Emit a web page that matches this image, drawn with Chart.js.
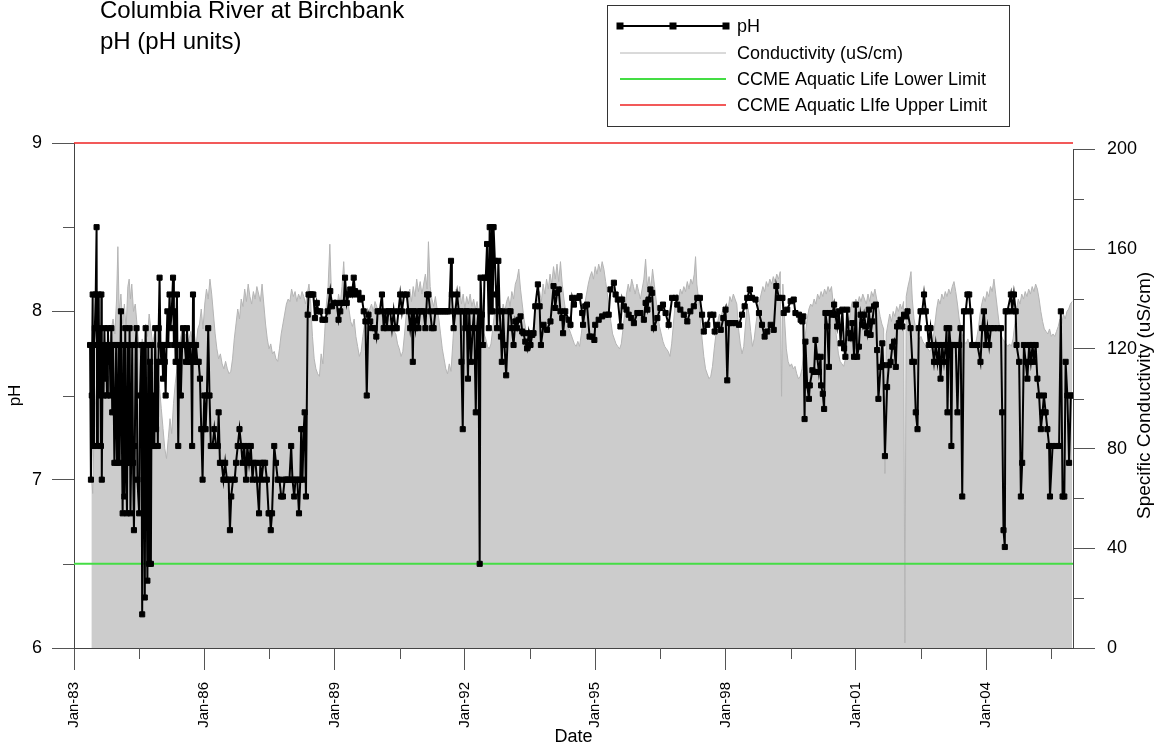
<!DOCTYPE html>
<html>
<head>
<meta charset="utf-8">
<title>Columbia River at Birchbank - pH</title>
<script src="https://cdn.jsdelivr.net/npm/chart.js@4.4.1/dist/chart.umd.min.js"></script>
<style>
  html, body { margin: 0; padding: 0; background: #ffffff; }
  #wrap { position: relative; width: 1157px; height: 748px; }
</style>
</head>
<body>
<div id="wrap"><canvas id="phChart" width="1157" height="748"></canvas></div>
<script>
var FONT = "'Liberation Sans', Arial, Helvetica, sans-serif";

var titleLines = ['Columbia River at Birchbank', 'pH (pH units)'];

// pH samples: decimal year and pH units
var phDates = [
  1983.37,1983.39,1983.41,1983.43,1983.44,1983.46,1983.48,1983.50,1983.52,1983.53,
  1983.55,1983.57,1983.58,1983.60,1983.62,1983.63,1983.64,1983.66,1983.68,1983.70,
  1983.72,1983.74,1983.76,1983.78,1983.80,1983.82,1983.84,1983.86,1983.88,1983.90,
  1983.93,1983.95,1983.97,1983.99,1984.01,1984.03,1984.05,1984.08,1984.10,1984.12,
  1984.14,1984.16,1984.18,1984.20,1984.22,1984.24,1984.26,1984.28,1984.30,1984.32,
  1984.34,1984.36,1984.38,1984.40,1984.42,1984.44,1984.46,1984.50,1984.52,1984.55,
  1984.57,1984.59,1984.61,1984.63,1984.65,1984.67,1984.69,1984.71,1984.73,1984.75,
  1984.77,1984.79,1984.81,1984.83,1984.85,1984.87,1984.89,1984.91,1984.93,1984.95,
  1984.97,1984.99,1985.01,1985.03,1985.05,1985.07,1985.09,1985.11,1985.13,1985.15,
  1985.17,1985.20,1985.22,1985.25,1985.28,1985.30,1985.32,1985.34,1985.37,1985.40,
  1985.42,1985.44,1985.46,1985.49,1985.51,1985.53,1985.55,1985.58,1985.60,1985.62,
  1985.64,1985.67,1985.70,1985.72,1985.74,1985.76,1985.78,1985.81,1985.84,1985.87,
  1985.90,1985.93,1985.96,1985.98,1986.00,1986.03,1986.06,1986.09,1986.12,1986.15,
  1986.19,1986.23,1986.27,1986.31,1986.33,1986.36,1986.40,1986.44,1986.48,1986.52,
  1986.56,1986.59,1986.62,1986.66,1986.70,1986.73,1986.77,1986.81,1986.85,1986.88,
  1986.92,1986.96,1986.99,1987.03,1987.07,1987.11,1987.14,1987.18,1987.21,1987.26,
  1987.29,1987.32,1987.36,1987.40,1987.44,1987.48,1987.51,1987.53,1987.56,1987.61,
  1987.65,1987.69,1987.73,1987.77,1987.81,1987.85,1987.88,1987.92,1987.96,1988.00,
  1988.03,1988.07,1988.10,1988.14,1988.18,1988.21,1988.23,1988.26,1988.29,1988.31,
  1988.34,1988.38,1988.40,1988.45,1988.48,1988.51,1988.55,1988.59,1988.63,1988.67,
  1988.72,1988.78,1988.84,1988.90,1988.94,1988.98,1989.05,1989.09,1989.13,1989.17,
  1989.21,1989.24,1989.28,1989.32,1989.36,1989.40,1989.44,1989.47,1989.51,1989.55,
  1989.59,1989.63,1989.67,1989.71,1989.74,1989.78,1989.82,1989.86,1989.92,1989.96,
  1989.99,1990.04,1990.09,1990.13,1990.17,1990.20,1990.24,1990.28,1990.32,1990.36,
  1990.40,1990.43,1990.47,1990.51,1990.55,1990.60,1990.66,1990.70,1990.74,1990.78,
  1990.80,1990.82,1990.86,1990.90,1990.93,1990.97,1991.01,1991.05,1991.09,1991.13,
  1991.16,1991.20,1991.24,1991.28,1991.32,1991.36,1991.40,1991.44,1991.48,1991.52,
  1991.56,1991.60,1991.64,1991.68,1991.70,1991.74,1991.78,1991.82,1991.86,1991.90,
  1991.92,1991.95,1991.98,1992.01,1992.04,1992.07,1992.10,1992.14,1992.18,1992.21,
  1992.25,1992.28,1992.31,1992.34,1992.36,1992.39,1992.42,1992.45,1992.48,1992.51,
  1992.55,1992.57,1992.60,1992.62,1992.64,1992.66,1992.69,1992.72,1992.74,1992.77,
  1992.80,1992.83,1992.85,1992.88,1992.91,1992.95,1993.01,1993.05,1993.08,1993.12,
  1993.16,1993.20,1993.24,1993.28,1993.32,1993.35,1993.39,1993.43,1993.47,1993.51,
  1993.55,1993.58,1993.62,1993.68,1993.72,1993.75,1993.81,1993.89,1993.97,1994.04,
  1994.08,1994.12,1994.16,1994.20,1994.24,1994.26,1994.31,1994.39,1994.43,1994.47,
  1994.51,1994.58,1994.64,1994.70,1994.72,1994.77,1994.81,1994.87,1994.93,1994.98,
  1995.00,1995.08,1995.16,1995.24,1995.31,1995.35,1995.43,1995.47,1995.52,1995.58,
  1995.62,1995.66,1995.72,1995.77,1995.83,1995.89,1995.97,1996.04,1996.12,1996.16,
  1996.20,1996.23,1996.27,1996.31,1996.35,1996.43,1996.50,1996.56,1996.62,1996.69,
  1996.77,1996.85,1996.89,1996.96,1997.04,1997.12,1997.19,1997.27,1997.35,1997.41,
  1997.46,1997.50,1997.58,1997.65,1997.72,1997.75,1997.81,1997.89,1997.95,1998.00,
  1998.04,1998.08,1998.15,1998.23,1998.31,1998.38,1998.44,1998.50,1998.56,1998.61,
  1998.69,1998.77,1998.84,1998.90,1998.96,1999.04,1999.11,1999.17,1999.23,1999.31,
  1999.34,1999.42,1999.50,1999.57,1999.61,1999.69,1999.73,1999.77,1999.79,1999.82,
  1999.84,1999.88,1999.92,1999.94,2000.00,2000.04,2000.07,2000.11,2000.15,2000.19,
  2000.20,2000.24,2000.27,2000.30,2000.34,2000.38,2000.40,2000.46,2000.50,2000.53,
  2000.57,2000.61,2000.65,2000.69,2000.73,2000.76,2000.80,2000.84,2000.88,2000.92,
  2000.96,2001.00,2001.03,2001.07,2001.11,2001.15,2001.19,2001.23,2001.26,2001.30,
  2001.34,2001.38,2001.42,2001.46,2001.49,2001.52,2001.57,2001.61,2001.63,2001.67,
  2001.72,2001.76,2001.80,2001.84,2001.88,2001.92,2001.95,2001.99,2002.03,2002.07,
  2002.11,2002.15,2002.19,2002.26,2002.30,2002.34,2002.38,2002.42,2002.45,2002.49,
  2002.53,2002.57,2002.61,2002.65,2002.68,2002.72,2002.76,2002.80,2002.84,2002.88,
  2002.92,2002.95,2002.99,2003.03,2003.07,2003.09,2003.11,2003.15,2003.18,2003.20,
  2003.22,2003.26,2003.30,2003.34,2003.38,2003.41,2003.45,2003.49,2003.53,2003.57,
  2003.61,2003.64,2003.68,2003.72,2003.80,2003.87,2003.91,2003.95,2003.99,2004.03,
  2004.07,2004.11,2004.18,2004.26,2004.34,2004.37,2004.40,2004.43,2004.45,2004.49,
  2004.57,2004.60,2004.64,2004.68,2004.70,2004.76,2004.80,2004.83,2004.87,2004.91,
  2004.95,2004.99,2005.03,2005.07,2005.10,2005.14,2005.18,2005.22,2005.26,2005.30,
  2005.33,2005.37,2005.41,2005.45,2005.47,2005.53,2005.60,2005.68,2005.72,2005.76,
  2005.80,2005.83,2005.87,2005.91,2005.95,2005.99
];
var phValues = [
  7.8,7.0,7.5,8.1,7.2,7.8,7.9,8.1,8.5,7.2,
  7.8,8.1,7.5,7.9,7.2,8.1,7.0,7.8,7.5,7.9,
  7.6,7.8,7.5,7.9,7.7,7.8,7.5,7.9,7.4,7.8,
  7.1,7.4,7.8,7.1,7.4,7.8,7.1,8.0,7.3,6.8,
  7.8,6.9,7.9,7.1,6.8,7.8,7.1,7.9,6.8,7.2,
  7.8,7.1,6.7,7.2,7.8,7.9,7.0,6.8,7.5,7.8,
  6.2,7.8,7.2,6.3,7.9,7.1,6.4,7.8,6.5,7.7,
  6.5,7.8,7.2,7.5,7.2,7.9,7.3,7.7,7.2,7.9,
  8.2,7.8,7.7,7.8,7.6,7.8,7.7,7.5,7.8,8.0,
  7.8,8.1,7.9,8.0,8.2,7.8,8.0,7.7,8.1,7.2,
  7.7,7.8,7.5,7.8,7.9,7.8,7.8,7.7,7.9,7.8,
  7.7,7.8,7.7,7.2,8.1,7.8,7.7,7.8,7.7,7.7,
  7.6,7.3,7.0,7.3,7.5,7.3,7.5,7.9,7.5,7.2,
  7.2,7.3,7.2,7.2,7.4,7.1,7.1,7.0,7.1,7.0,
  7.0,6.7,6.9,7.0,7.0,7.1,7.2,7.3,7.2,7.1,
  7.2,7.0,7.2,7.1,7.2,7.0,7.1,7.1,7.0,6.8,
  7.1,7.0,7.1,7.1,7.0,6.8,6.8,6.7,6.8,7.2,
  7.1,7.0,7.0,6.9,6.9,7.0,7.0,7.0,7.0,7.2,
  7.0,6.9,7.0,7.0,6.8,7.0,7.3,7.0,7.3,7.4,
  6.9,7.98,8.1,8.1,8.1,8.1,7.96,8.05,8.0,8.0,
  7.95,7.95,8.0,8.12,8.03,8.05,8.05,7.95,8.0,8.05,
  8.05,8.2,8.05,8.1,8.13,8.1,8.2,8.12,8.1,8.11,
  8.07,8.08,8.0,7.94,7.5,7.98,7.94,7.9,7.9,7.85,
  8.0,8.0,8.1,7.9,8.0,7.9,8.0,8.0,7.9,8.0,
  7.9,7.9,8.0,8.1,8.0,8.1,8.1,8.0,7.9,8.0,
  7.7,8.0,7.9,8.0,7.9,8.0,8.0,8.0,7.9,8.1,
  8.1,8.0,7.9,7.9,8.0,8.0,8.0,8.0,8.0,8.0,
  8.0,8.0,8.0,8.3,8.1,7.9,8.0,8.1,8.0,8.0,
  7.7,7.3,8.0,7.9,8.0,7.6,8.0,7.7,7.9,8.0,
  7.4,7.9,8.0,6.5,8.2,7.98,7.8,8.2,8.2,8.4,
  7.9,8.5,8.0,8.5,8.0,8.5,8.3,8.1,7.9,8.3,
  8.0,7.85,7.7,8.0,7.8,7.62,8.0,8.0,7.9,7.8,
  7.94,7.9,7.95,7.97,7.88,7.87,7.82,7.78,7.87,7.8,
  7.86,7.87,8.03,8.16,8.03,7.8,7.92,7.89,7.94,8.15,
  8.02,8.11,8.13,8.0,7.96,7.87,8.0,7.95,7.92,8.08,
  8.04,8.08,8.09,7.99,7.92,8.03,8.04,7.85,7.85,7.83,
  7.92,7.95,7.97,7.98,7.98,8.13,8.17,8.1,8.07,7.91,
  8.07,8.03,8.01,7.98,7.96,7.93,7.99,7.99,7.95,8.05,
  8.01,8.07,8.13,8.11,7.9,7.96,8.02,8.04,7.99,7.92,
  8.08,8.08,8.04,8.01,7.98,7.94,8.0,8.03,8.08,8.08,
  7.98,7.88,7.92,7.98,7.98,7.88,7.92,7.89,7.96,8.01,
  7.59,7.93,7.93,7.93,7.92,7.98,8.03,8.08,8.13,8.08,
  8.07,7.99,7.92,7.85,7.88,7.92,7.89,8.15,8.08,8.08,
  7.99,8.01,8.06,8.07,7.99,7.98,7.95,7.94,7.97,7.36,
  7.82,7.56,7.48,7.56,7.65,7.64,7.83,7.73,7.64,7.73,
  7.56,7.51,7.42,7.99,7.91,7.67,7.99,7.98,8.04,7.98,
  7.91,8.0,7.81,8.01,7.78,7.73,8.01,7.87,7.84,7.93,
  7.73,8.04,7.73,7.79,7.98,7.92,7.98,7.91,7.87,8.01,
  7.86,7.94,8.03,8.04,7.77,7.48,7.67,7.81,7.68,7.14,
  7.55,7.68,7.7,7.79,7.82,7.67,7.91,7.93,7.95,7.91,
  7.98,7.97,8.0,7.9,7.7,7.7,7.4,7.3,7.9,8.0,
  8.0,8.1,8.0,7.9,7.8,7.9,7.8,7.7,7.8,7.7,
  7.8,7.6,7.8,7.7,7.8,7.9,7.4,7.9,7.8,7.2,
  7.8,7.8,7.8,7.4,7.8,7.9,6.9,8.0,8.0,8.1,
  8.1,8.0,7.8,7.8,7.8,7.7,7.9,8.0,7.8,7.9,
  7.8,7.9,7.9,7.9,7.9,7.4,6.7,6.6,8.0,8.0,
  8.1,8.0,8.1,8.0,7.8,7.7,6.9,7.1,7.8,7.7,
  7.6,7.8,7.7,7.8,7.7,7.8,7.6,7.5,7.3,7.4,
  7.5,7.4,7.3,7.2,6.9,7.2,7.2,7.2,8.0,6.9,
  6.9,7.7,7.5,7.1,7.5,7.5
];

// specific conductivity: decimal year and uS/cm
var condDates = [
  1983.40,1983.43,1983.46,1983.50,1983.54,1983.58,1983.62,1983.66,1983.70,1983.74,
  1983.78,1983.82,1983.86,1983.90,1983.94,1983.98,1984.01,1984.04,1984.08,1984.12,
  1984.16,1984.20,1984.24,1984.27,1984.30,1984.33,1984.37,1984.41,1984.45,1984.49,
  1984.53,1984.57,1984.61,1984.65,1984.69,1984.73,1984.77,1984.81,1984.85,1984.89,
  1984.93,1984.97,1985.01,1985.05,1985.09,1985.13,1985.17,1985.21,1985.25,1985.29,
  1985.33,1985.37,1985.41,1985.45,1985.49,1985.53,1985.57,1985.61,1985.65,1985.69,
  1985.73,1985.77,1985.81,1985.85,1985.89,1985.93,1985.97,1986.01,1986.05,1986.09,
  1986.13,1986.17,1986.21,1986.25,1986.29,1986.33,1986.37,1986.41,1986.45,1986.49,
  1986.53,1986.57,1986.61,1986.65,1986.69,1986.73,1986.77,1986.81,1986.85,1986.89,
  1986.93,1986.97,1987.01,1987.05,1987.09,1987.13,1987.17,1987.21,1987.25,1987.29,
  1987.33,1987.37,1987.41,1987.45,1987.49,1987.53,1987.57,1987.61,1987.65,1987.69,
  1987.73,1987.77,1987.81,1987.85,1987.89,1987.93,1987.97,1988.01,1988.05,1988.09,
  1988.13,1988.17,1988.21,1988.25,1988.29,1988.33,1988.37,1988.41,1988.45,1988.49,
  1988.53,1988.57,1988.61,1988.65,1988.69,1988.73,1988.77,1988.81,1988.85,1988.89,
  1988.93,1988.97,1989.01,1989.05,1989.09,1989.13,1989.17,1989.21,1989.25,1989.29,
  1989.33,1989.37,1989.41,1989.45,1989.49,1989.53,1989.57,1989.61,1989.65,1989.69,
  1989.73,1989.77,1989.81,1989.85,1989.89,1989.93,1989.97,1990.01,1990.05,1990.09,
  1990.13,1990.17,1990.21,1990.25,1990.29,1990.33,1990.37,1990.41,1990.45,1990.49,
  1990.53,1990.57,1990.61,1990.65,1990.69,1990.73,1990.77,1990.81,1990.85,1990.89,
  1990.93,1990.97,1991.01,1991.05,1991.09,1991.13,1991.16,1991.20,1991.24,1991.28,
  1991.32,1991.36,1991.40,1991.44,1991.48,1991.52,1991.56,1991.60,1991.64,1991.68,
  1991.72,1991.76,1991.80,1991.84,1991.88,1991.92,1991.96,1992.00,1992.04,1992.08,
  1992.12,1992.16,1992.20,1992.24,1992.28,1992.32,1992.36,1992.40,1992.44,1992.48,
  1992.52,1992.56,1992.60,1992.64,1992.68,1992.72,1992.76,1992.80,1992.84,1992.88,
  1992.92,1992.96,1993.00,1993.04,1993.08,1993.12,1993.16,1993.20,1993.24,1993.28,
  1993.32,1993.36,1993.40,1993.44,1993.48,1993.52,1993.56,1993.60,1993.64,1993.68,
  1993.72,1993.76,1993.80,1993.84,1993.88,1993.92,1993.96,1994.00,1994.04,1994.08,
  1994.12,1994.16,1994.20,1994.24,1994.28,1994.32,1994.36,1994.40,1994.44,1994.48,
  1994.52,1994.56,1994.60,1994.64,1994.68,1994.72,1994.76,1994.80,1994.84,1994.88,
  1994.92,1994.96,1995.00,1995.04,1995.08,1995.12,1995.16,1995.20,1995.24,1995.28,
  1995.32,1995.36,1995.40,1995.44,1995.48,1995.52,1995.56,1995.60,1995.64,1995.68,
  1995.72,1995.76,1995.80,1995.84,1995.88,1995.92,1995.96,1996.00,1996.04,1996.08,
  1996.12,1996.16,1996.20,1996.24,1996.28,1996.32,1996.36,1996.40,1996.44,1996.48,
  1996.52,1996.56,1996.60,1996.64,1996.68,1996.72,1996.76,1996.80,1996.84,1996.88,
  1996.92,1996.96,1997.00,1997.04,1997.08,1997.12,1997.16,1997.20,1997.24,1997.28,
  1997.31,1997.34,1997.38,1997.42,1997.46,1997.50,1997.54,1997.58,1997.62,1997.66,
  1997.70,1997.74,1997.78,1997.82,1997.86,1997.90,1997.94,1997.98,1998.02,1998.06,
  1998.10,1998.14,1998.18,1998.22,1998.26,1998.30,1998.34,1998.38,1998.42,1998.46,
  1998.50,1998.54,1998.58,1998.62,1998.66,1998.70,1998.74,1998.78,1998.82,1998.86,
  1998.90,1998.94,1998.98,1999.02,1999.06,1999.10,1999.14,1999.18,1999.22,1999.26,
  1999.29,1999.32,1999.36,1999.40,1999.44,1999.48,1999.52,1999.56,1999.60,1999.64,
  1999.68,1999.72,1999.76,1999.80,1999.84,1999.88,1999.92,1999.96,2000.00,2000.04,
  2000.08,2000.12,2000.16,2000.20,2000.24,2000.28,2000.32,2000.36,2000.40,2000.44,
  2000.48,2000.52,2000.56,2000.60,2000.64,2000.68,2000.72,2000.76,2000.80,2000.84,
  2000.88,2000.92,2000.96,2001.00,2001.04,2001.08,2001.12,2001.16,2001.20,2001.24,
  2001.28,2001.32,2001.36,2001.40,2001.44,2001.48,2001.52,2001.56,2001.60,2001.64,
  2001.67,2001.70,2001.74,2001.78,2001.82,2001.86,2001.90,2001.94,2001.98,2002.02,
  2002.06,2002.10,2002.13,2002.16,2002.20,2002.24,2002.27,2002.30,2002.34,2002.38,
  2002.42,2002.46,2002.50,2002.54,2002.58,2002.62,2002.66,2002.70,2002.74,2002.78,
  2002.82,2002.86,2002.90,2002.94,2002.98,2003.02,2003.06,2003.10,2003.14,2003.18,
  2003.22,2003.26,2003.30,2003.34,2003.38,2003.42,2003.46,2003.50,2003.54,2003.58,
  2003.62,2003.66,2003.70,2003.74,2003.78,2003.82,2003.86,2003.90,2003.94,2003.98,
  2004.02,2004.06,2004.10,2004.14,2004.18,2004.22,2004.26,2004.30,2004.34,2004.38,
  2004.42,2004.46,2004.50,2004.54,2004.58,2004.62,2004.66,2004.70,2004.74,2004.78,
  2004.82,2004.86,2004.90,2004.94,2004.98,2005.02,2005.06,2005.10,2005.14,2005.18,
  2005.22,2005.26,2005.30,2005.34,2005.38,2005.42,2005.46,2005.50,2005.54,2005.58,
  2005.62,2005.66,2005.70,2005.74,2005.78,2005.82,2005.86,2005.90,2005.94,2005.98
];
var condValues = [
  70,62,85,100,112,105,118,110,122,115,
  125,120,128,132,126,140,161,135,142,130,
  138,128,145,148,140,146,135,138,130,122,
  118,124,120,130,125,134,128,122,126,120,
  112,104,96,88,80,76,84,92,86,98,
  106,112,120,124,128,122,126,119,124,127,
  122,126,121,128,130,136,128,138,144,140,
  148,142,134,126,120,116,118,114,112,115,
  112,110,111,116,124,130,136,132,140,137,
  144,139,146,141,138,143,140,145,142,139,
  146,138,130,124,120,122,118,119,116,115,
  120,126,130,134,138,140,139,144,141,143,
  139,142,140,143,141,138,142,146,138,125,
  116,112,110,109,118,114,126,138,145,162,
  141,137,140,135,142,138,145,155,140,143,
  136,131,129,132,125,121,117,119,125,130,
  128,133,136,138,135,139,137,134,136,133,
  135,132,134,131,133,130,127,126,122,120,
  117,119,126,134,140,144,139,145,141,148,
  143,147,142,146,150,144,163,145,140,137,
  141,136,132,126,120,116,112,110,114,111,
  122,134,144,140,145,138,142,136,141,138,
  142,137,140,136,139,134,130,128,126,124,
  121,120,122,128,134,136,131,137,133,138,
  135,139,141,137,143,140,146,148,152,144,
  138,132,128,125,128,124,127,132,137,140,
  143,139,146,142,148,144,150,146,153,148,
  154,147,155,146,140,135,131,128,126,124,
  122,121,123,121,126,132,138,142,146,149,
  151,148,153,150,154,151,155,152,147,142,
  136,131,126,124,122,121,120,122,128,135,
  142,146,143,148,145,142,146,143,140,144,
  148,156,145,149,144,152,146,140,134,129,
  126,123,121,120,119,117,122,130,138,142,
  140,144,142,145,143,147,144,148,146,150,
  157,146,140,132,124,117,112,110,108,109,
  113,120,126,131,134,133,136,134,138,136,
  141,139,142,140,138,128,122,118,121,130,
  138,134,127,121,124,130,135,139,142,145,
  143,147,145,148,146,149,147,150,148,151,
  101,146,132,120,115,113,114,112,113,110,
  108,109,112,118,126,132,136,138,137,140,
  138,142,140,143,141,144,142,145,143,145,
  138,130,124,118,115,114,113,116,122,130,
  136,139,137,140,138,141,139,142,140,138,
  142,139,143,141,144,140,137,133,130,128,
  70,126,130,134,131,135,133,137,135,138,
  136,139,2,141,145,148,151,140,132,128,
  126,124,125,123,122,121,120,119,120,124,
  130,136,140,138,142,140,143,141,144,142,
  145,147,143,138,132,128,125,123,122,124,
  121,123,122,121,124,128,134,138,141,139,
  143,141,145,143,148,142,136,130,126,124,
  123,122,121,122,121,124,130,136,140,138,
  142,140,143,141,144,142,145,143,146,144,
  140,135,131,128,127,126,128,125,126,125,
  127,129,132,130,134,132,135,136,138,139
];

// CCME guideline limits, drawn across the whole date range
var limitDates = [1983, 2006];
var lowerLimit = [6.5, 6.5];
var upperLimit = [9, 9];

// axis ticks; an empty label means a short unlabelled tick
var dateTicks = [1983, 1984.5, 1986, 1987.5, 1989, 1990.5, 1992, 1993.5, 1995, 1996.5, 1998, 1999.5, 2001, 2002.5, 2004, 2005.5];
var dateLabels = ['Jan-83', '', 'Jan-86', '', 'Jan-89', '', 'Jan-92', '', 'Jan-95', '', 'Jan-98', '', 'Jan-01', '', 'Jan-04', ''];
var phTicks = [6, 6.5, 7, 7.5, 8, 8.5, 9];
var phLabels = ['6', '', '7', '', '8', '', '9'];
var condTicks = [0, 20, 40, 60, 80, 100, 120, 140, 160, 180, 200];
var condLabels = ['0', '', '40', '', '80', '', '120', '', '160', '', '200'];

function toPoints(xs, ys) {
  return xs.map(function (x, i) { return { x: x, y: ys[i] }; });
}

function majorTickColor(labels) {
  return function (c) { return labels[c.index] ? '#555555' : 'rgba(0,0,0,0)'; };
}

// title, legend box, short ticks and the right axis title
var decorations = {
  id: 'decorations',
  afterDraw: function (chart) {
    var ctx = chart.ctx;
    var area = chart.chartArea;
    var xs = chart.scales.x, ys = chart.scales.y, cs = chart.scales.y1;
    var ds = chart.data.datasets;
    ctx.save();

    // short ticks
    ctx.strokeStyle = '#555555';
    ctx.lineWidth = 1;
    ctx.beginPath();
    dateTicks.forEach(function (v, i) {
      if (dateLabels[i]) return;
      var px = Math.round(xs.getPixelForValue(v)) + 0.5;
      ctx.moveTo(px, area.bottom); ctx.lineTo(px, area.bottom + 11);
    });
    phTicks.forEach(function (v, i) {
      if (phLabels[i]) return;
      var py = Math.round(ys.getPixelForValue(v)) + 0.5;
      ctx.moveTo(area.left, py); ctx.lineTo(area.left - 11, py);
    });
    condTicks.forEach(function (v, i) {
      if (condLabels[i]) return;
      var py = Math.round(cs.getPixelForValue(v)) + 0.5;
      ctx.moveTo(area.right, py); ctx.lineTo(area.right + 11, py);
    });
    ctx.stroke();

    // right axis line only spans 0..200
    ctx.strokeStyle = '#444444';
    ctx.beginPath();
    var rx = Math.round(area.right) + 0.5;
    ctx.moveTo(rx, cs.getPixelForValue(condTicks[condTicks.length - 1]));
    ctx.lineTo(rx, area.bottom);
    ctx.stroke();

    // right axis title, reads bottom to top, centred on the plot height
    ctx.fillStyle = '#000000';
    ctx.font = '19px ' + FONT;
    ctx.textAlign = 'center';
    ctx.textBaseline = 'middle';
    ctx.translate(1145, (area.top + area.bottom) / 2);
    ctx.rotate(-Math.PI / 2);
    ctx.fillText('Specific Conductivity (uS/cm)', 0, 0);
    ctx.setTransform(1, 0, 0, 1, 0, 0);

    // chart title
    ctx.font = '24px ' + FONT;
    ctx.textAlign = 'left';
    ctx.textBaseline = 'alphabetic';
    ctx.fillText(titleLines[0], 100, 18);
    ctx.fillText(titleLines[1], 100, 49);

    // legend box
    ctx.fillStyle = '#ffffff';
    ctx.fillRect(607, 5, 402, 121);
    ctx.strokeStyle = '#333333';
    ctx.lineWidth = 1;
    ctx.strokeRect(607.5, 5.5, 402, 121);
    var rows = [26, 53, 79, 105];
    ctx.font = '18px ' + FONT;
    ctx.textBaseline = 'middle';
    ds.forEach(function (d, i) {
      var y = rows[i];
      ctx.strokeStyle = d.borderColor;
      ctx.lineWidth = d.borderWidth;
      ctx.beginPath();
      ctx.moveTo(620, y); ctx.lineTo(726, y);
      ctx.stroke();
      if (d.pointRadius > 0) {
        ctx.fillStyle = d.pointBackgroundColor;
        [620, 673, 726].forEach(function (mx) { ctx.fillRect(mx - 3.5, y - 3.5, 7, 7); });
      }
      ctx.fillStyle = '#000000';
      ctx.fillText(d.label, 737, y + 1);
    });

    ctx.restore();
  }
};

var ctx = document.getElementById('phChart').getContext('2d');
var chart = new Chart(ctx, {
  type: 'line',
  data: {
    datasets: [{
      label: 'pH',
      data: toPoints(phDates, phValues),
      yAxisID: 'y',
      borderColor: '#000000',
      borderWidth: 2,
      pointStyle: 'rect',
      pointRadius: 3.6,
      pointBorderWidth: 1,
      pointBackgroundColor: '#000000',
      pointBorderColor: '#000000',
      tension: 0,
      order: 0
    }, {
      label: 'Conductivity (uS/cm)',
      data: toPoints(condDates, condValues),
      yAxisID: 'y1',
      borderColor: '#b4b4b4',
      borderWidth: 1,
      backgroundColor: '#cccccc',
      fill: 'origin',
      pointRadius: 0,
      tension: 0,
      order: 3
    }, {
      label: 'CCME Aquatic Life Lower Limit',
      data: toPoints(limitDates, lowerLimit),
      yAxisID: 'y',
      borderColor: '#44dd44',
      borderWidth: 2,
      pointRadius: 0,
      order: 1
    }, {
      label: 'CCME Aquatic LIfe Upper Limit',
      data: toPoints(limitDates, upperLimit),
      yAxisID: 'y',
      borderColor: '#ee2222',
      borderWidth: 1.5,
      pointRadius: 0,
      clip: 3,
      order: 1
    }]
  },
  options: {
    responsive: false,
    animation: false,
    devicePixelRatio: 1,
    layout: { padding: { top: 143, left: 0, right: 0, bottom: 0 } },
    plugins: {
      legend: { display: false },
      title: { display: false },
      tooltip: { enabled: false }
    },
    scales: {
      x: {
        type: 'linear',
        position: 'bottom',
        min: 1983,
        max: 2006,
        afterBuildTicks: function (s) { s.ticks = dateTicks.map(function (v) { return { value: v }; }); },
        afterFit: function (s) { s.height = 100; },
        grid: { drawOnChartArea: false, tickLength: 22, tickColor: majorTickColor(dateLabels) },
        border: { color: '#444444' },
        ticks: {
          autoSkip: false, minRotation: 90, maxRotation: 90, padding: 12, color: '#000000',
          font: { family: FONT, size: 15 },
          callback: function (v, i) { return dateLabels[i]; }
        },
        title: { display: true, text: 'Date', color: '#000000', font: { family: FONT, size: 18 }, padding: { top: 0, bottom: 0 } }
      },
      y: {
        type: 'linear',
        position: 'left',
        min: 6,
        max: 9,
        afterBuildTicks: function (s) { s.ticks = phTicks.map(function (v) { return { value: v }; }); },
        afterFit: function (s) { s.width = 74; },
        grid: { drawOnChartArea: false, tickLength: 22, tickColor: majorTickColor(phLabels) },
        border: { color: '#444444' },
        ticks: {
          padding: 10, color: '#000000',
          font: { family: FONT, size: 18 },
          callback: function (v, i) { return phLabels[i]; }
        },
        title: { display: true, text: 'pH', color: '#000000', font: { family: FONT, size: 17 }, padding: { top: 5, bottom: 0 } }
      },
      y1: {
        type: 'linear',
        position: 'right',
        min: 0,
        max: 202.6,
        afterBuildTicks: function (s) { s.ticks = condTicks.map(function (v) { return { value: v }; }); },
        afterFit: function (s) { s.width = 84; },
        grid: { drawOnChartArea: false, tickLength: 22, tickColor: majorTickColor(condLabels) },
        border: { display: false },
        ticks: {
          padding: 12, color: '#000000',
          font: { family: FONT, size: 18 },
          callback: function (v, i) { return condLabels[i]; }
        }
      }
    }
  },
  plugins: [decorations]
});
</script>
</body>
</html>
